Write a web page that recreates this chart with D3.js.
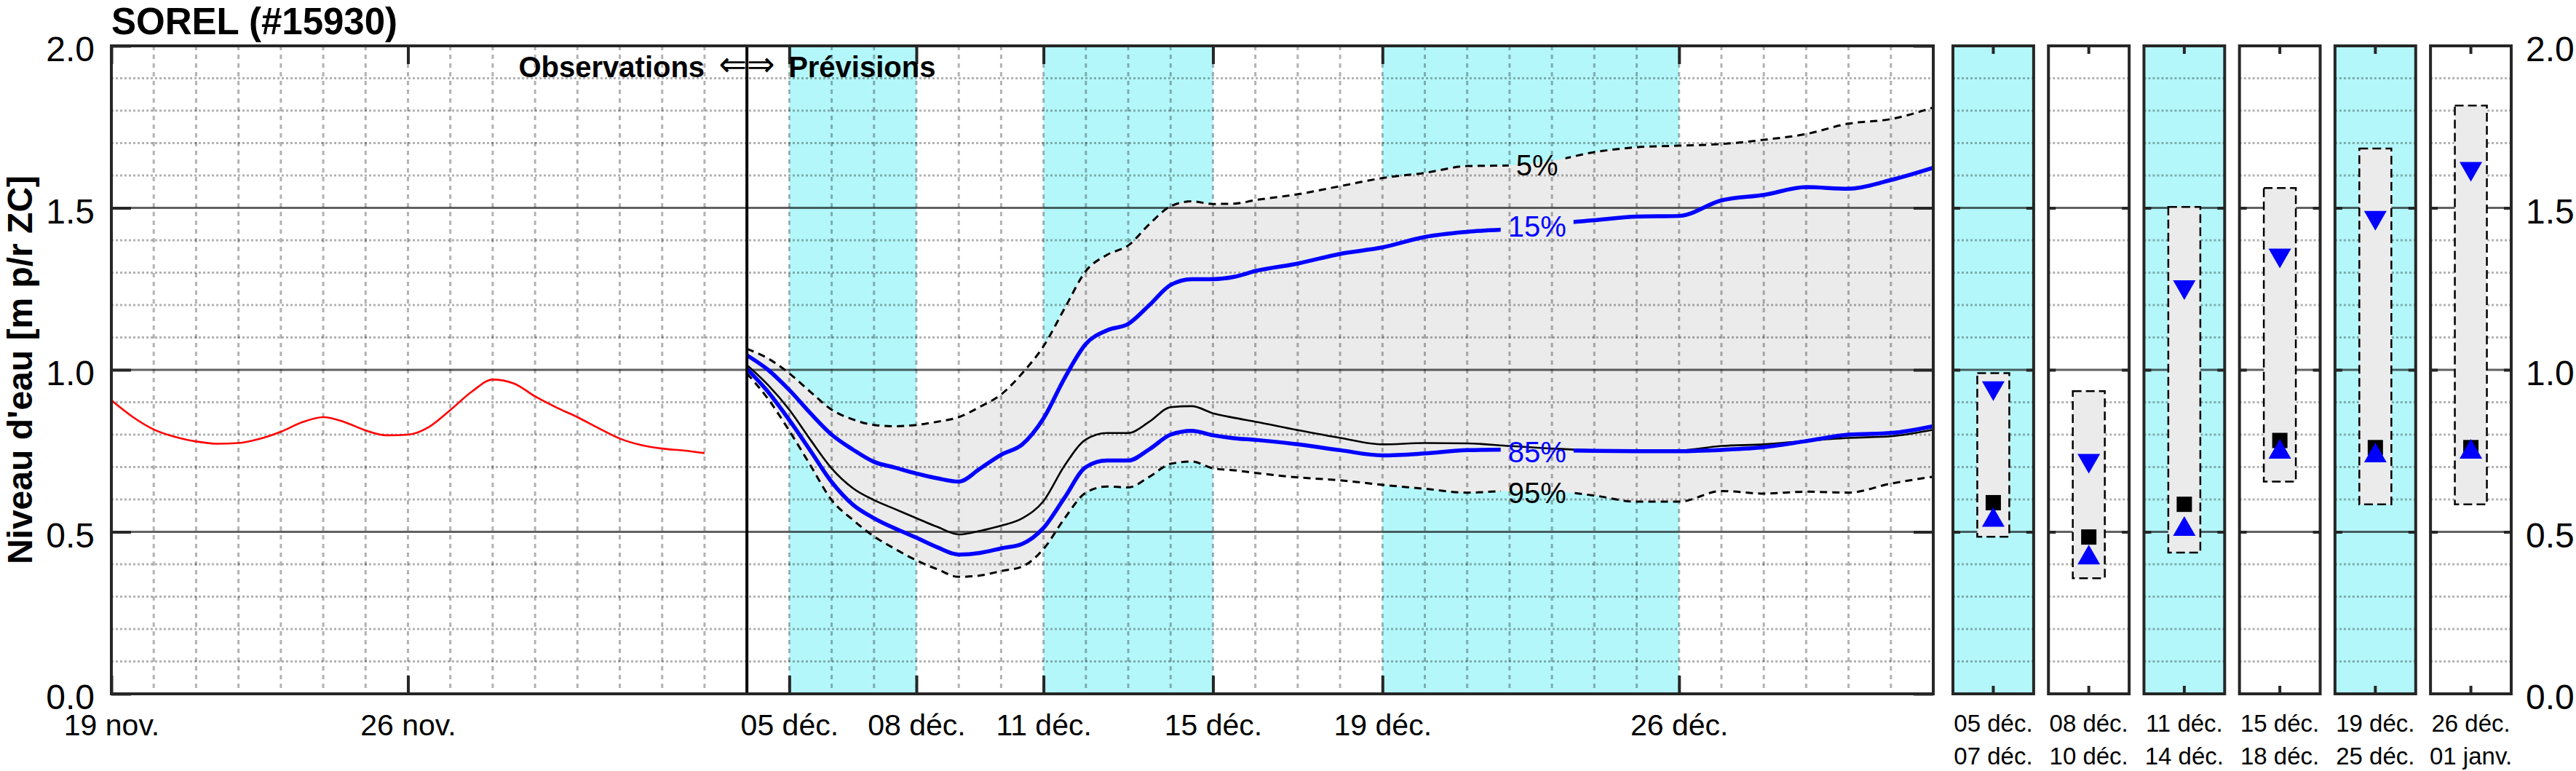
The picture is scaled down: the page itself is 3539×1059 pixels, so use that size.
<!DOCTYPE html>
<html><head><meta charset="utf-8">
<script src="https://cdn.jsdelivr.net/npm/d3@7"></script>
<style>
body{margin:0;background:#fff}
svg{display:block}
text{font-family:"Liberation Sans",Arial,Helvetica,sans-serif;fill:#000}
</style>
</head><body>
<svg id="c" width="3539" height="1059"></svg>
<script>
// ---------------- DATA ----------------
const chartTitle = "SOREL (#15930)";
const yAxisTitle = "Niveau d'eau [m p/r ZC]";
// x in days since 19 nov. 00:00
const xTickDays = [0, 7, 16, 19, 22, 26, 30, 37];
const xTickLabels = ["19 nov.", "26 nov.", "05 déc.", "08 déc.", "11 déc.", "15 déc.", "19 déc.", "26 déc."];
const yTickValues = [0, 0.5, 1, 1.5, 2];
const yTickLabels = ["0.0", "0.5", "1.0", "1.5", "2.0"];
const shadeStart = [16, 22, 30];
const shadeEnd = [19, 26, 37];
const splitDay = 15;
const endDay = 43;

// Observations (days since 19 nov.)
const obsDays = [0,0.5,1,1.5,2,2.5,3,3.5,4,4.5,5,5.5,6,6.5,7,7.5,8,8.5,9,9.5,10,10.5,11,11.5,12,12.5,13,13.5,14];
const obsLevel = [0.906,0.855,0.816,0.793,0.779,0.772,0.774,0.787,0.809,0.838,0.854,0.839,0.813,0.798,0.800,0.824,0.876,0.932,0.970,0.958,0.918,0.884,0.854,0.820,0.788,0.768,0.757,0.751,0.743];

// Forecast (days since 04 déc. 00:00)
const fcDays = [0,0.5,1,1.5,2,2.5,3,3.5,4,4.5,5,5.5,6,6.5,7,7.5,8,8.5,9,9.5,10,10.5,11,11.5,12,13,14,15,16,17,18,19,20,21,22,23,24,25,26,27,28];
const q05 = [1.065,1.035,0.989,0.932,0.877,0.847,0.830,0.826,0.830,0.840,0.854,0.886,0.924,0.990,1.073,1.190,1.305,1.355,1.384,1.450,1.505,1.520,1.512,1.513,1.524,1.542,1.567,1.592,1.608,1.629,1.631,1.645,1.672,1.687,1.692,1.697,1.710,1.728,1.760,1.774,1.810];
const q15 = [1.045,1.000,0.938,0.866,0.800,0.754,0.716,0.698,0.680,0.665,0.655,0.695,0.738,0.770,0.850,0.975,1.080,1.122,1.142,1.200,1.262,1.280,1.280,1.287,1.305,1.328,1.358,1.378,1.410,1.426,1.435,1.450,1.462,1.473,1.475,1.523,1.540,1.564,1.559,1.586,1.624];
const q50 = [1.015,0.953,0.877,0.784,0.696,0.635,0.598,0.570,0.542,0.515,0.492,0.503,0.519,0.542,0.595,0.705,0.785,0.805,0.805,0.840,0.885,0.888,0.866,0.852,0.840,0.814,0.790,0.770,0.774,0.773,0.765,0.757,0.752,0.749,0.751,0.765,0.770,0.781,0.790,0.795,0.815];
const q85 = [1.003,0.932,0.845,0.750,0.654,0.584,0.542,0.510,0.482,0.452,0.430,0.435,0.449,0.463,0.512,0.606,0.700,0.720,0.720,0.755,0.800,0.812,0.798,0.789,0.784,0.770,0.752,0.736,0.742,0.752,0.754,0.752,0.750,0.749,0.749,0.753,0.761,0.780,0.800,0.805,0.826];
const q95 = [0.989,0.910,0.812,0.705,0.598,0.537,0.486,0.447,0.412,0.384,0.361,0.365,0.379,0.393,0.447,0.542,0.621,0.640,0.637,0.670,0.710,0.717,0.696,0.690,0.682,0.668,0.659,0.645,0.633,0.621,0.626,0.625,0.612,0.593,0.593,0.626,0.618,0.624,0.621,0.649,0.670];
const quantileNames = ["5%", "15%", "85%", "95%"];

// Period summary panels
const periodStart = ["05 déc.", "08 déc.", "11 déc.", "15 déc.", "19 déc.", "26 déc."];
const periodEnd = ["07 déc.", "10 déc.", "14 déc.", "18 déc.", "25 déc.", "01 janv."];
const periodShaded = [true, false, true, false, true, false];
const periodQ05 = [0.990, 0.934, 1.503, 1.561, 1.683, 1.816];
const periodQ15 = [0.934, 0.710, 1.246, 1.344, 1.460, 1.611];
const periodMed = [0.590, 0.484, 0.585, 0.782, 0.760, 0.760];
const periodQ85 = [0.546, 0.430, 0.518, 0.756, 0.745, 0.756];
const periodQ95 = [0.485, 0.357, 0.436, 0.655, 0.585, 0.585];

// ---------------- LAYOUT ----------------
const svg = d3.select("#c");
const T = 63, B = 953;
const x = d3.scaleLinear().domain([0, endDay]).range([153, 2656]);
const y = d3.scaleLinear().domain([0, 2]).range([B, T]);
const px = d3.scaleBand().domain(d3.range(periodStart.length)).range([2683, 3450]).paddingInner(0.155).paddingOuter(0);
const axisColor = "#262626";
const cyan = "#b3f7fa";
const fillGrey = "#ebebeb";
const minorY = d3.range(1, 20).map(v => v / 10).filter(v => Math.abs(v * 2 - Math.round(v * 2)) > 1e-6);
const majorY = [0.5, 1, 1.5];

svg.append("rect").attr("width", 3539).attr("height", 1059).attr("fill", "#fff");

// ---------------- MAIN PLOT ----------------
const main = svg.append("g");
const X0 = x(0), X1 = x(endDay);
shadeStart.forEach((s, i) => {
  main.append("rect").attr("x", x(s)).attr("y", T).attr("width", x(shadeEnd[i]) - x(s)).attr("height", B - T).attr("fill", cyan);
});

const fc = fcDays.map((d, i) => ({t: d + splitDay, q05: q05[i], q15: q15[i], q50: q50[i], q85: q85[i], q95: q95[i]}));
const area = d3.area().x(d => x(d.t)).y0(d => y(d.q95)).y1(d => y(d.q05)).curve(d3.curveMonotoneX);
main.append("path").datum(fc).attr("d", area).attr("fill", fillGrey);

// grid
const grid = main.append("g");
grid.selectAll(".vg").data(d3.range(1, endDay)).join("line")
  .attr("x1", d => x(d)).attr("x2", d => x(d)).attr("y1", T).attr("y2", B)
  .attr("stroke", "#000").attr("stroke-opacity", 0.3).attr("stroke-width", 3).attr("stroke-dasharray", "6,6");
grid.selectAll(".hg").data(minorY).join("line")
  .attr("x1", X0).attr("x2", X1).attr("y1", d => y(d)).attr("y2", d => y(d))
  .attr("stroke", "#000").attr("stroke-opacity", 0.3).attr("stroke-width", 3).attr("stroke-dasharray", "3,3");
grid.selectAll(".mg").data(majorY).join("line")
  .attr("x1", X0).attr("x2", X1).attr("y1", d => y(d)).attr("y2", d => y(d))
  .attr("stroke", "#000").attr("stroke-opacity", 0.62).attr("stroke-width", 3);

// observations
const obs = obsDays.map((d, i) => ({t: d, v: obsLevel[i]}));
main.append("path").datum(obs)
  .attr("d", d3.line().x(d => x(d.t)).y(d => y(d.v)).curve(d3.curveMonotoneX))
  .attr("fill", "none").attr("stroke", "#ff0000").attr("stroke-width", 2.6);

// median line
const lineOf = key => d3.line().x(d => x(d.t)).y(d => y(d[key])).curve(d3.curveMonotoneX);
main.append("path").datum(fc).attr("d", lineOf("q50")).attr("fill", "none").attr("stroke", "#000").attr("stroke-width", 2.6);

// quantile labels (positions in plot units)
const labelDay = splitDay + 18.65;
const labelVal = [1.633, 1.445, 0.748, 0.622];
const labelColor = ["#000", "#0000ff", "#0000ff", "#000"];
const labelG = main.append("g");
const labels = quantileNames.map((n, i) => labelG.append("text").attr("x", x(labelDay)).attr("y", y(labelVal[i]) + 15)
  .attr("text-anchor", "middle").attr("font-size", 40).style("fill", labelColor[i]).text(n));

const defs = svg.append("defs");
const qKeys = ["q05", "q15", "q85", "q95"];
const qStyle = [
  {stroke: "#000", w: 3, dash: "10,7"},
  {stroke: "#0000ff", w: 5.5, dash: null},
  {stroke: "#0000ff", w: 5.5, dash: null},
  {stroke: "#000", w: 3, dash: "10,7"}];
qKeys.forEach((k, i) => {
  const bb = labels[i].node().getBBox();
  const m = defs.append("mask").attr("id", "m" + i).attr("maskUnits", "userSpaceOnUse")
    .attr("x", 0).attr("y", 0).attr("width", 3539).attr("height", 1059);
  m.append("rect").attr("width", 3539).attr("height", 1059).attr("fill", "#fff");
  m.append("rect").attr("x", bb.x - 10).attr("y", bb.y - 4).attr("width", bb.width + 20).attr("height", bb.height + 8).attr("fill", "#000");
  const p = main.append("path").datum(fc).attr("d", lineOf(k)).attr("fill", "none")
    .attr("stroke", qStyle[i].stroke).attr("stroke-width", qStyle[i].w).attr("mask", "url(#m" + i + ")");
  if (qStyle[i].dash) p.attr("stroke-dasharray", qStyle[i].dash);
});
labelG.raise();

// split line
main.append("line").attr("x1", x(splitDay)).attr("x2", x(splitDay)).attr("y1", T).attr("y2", B)
  .attr("stroke", "#000").attr("stroke-width", 4);

// axes
const styleAxis = g => {
  g.select(".domain").remove();
  g.selectAll(".tick line").attr("stroke", axisColor).attr("stroke-width", 4);
  g.selectAll("text").attr("fill", "#000").style("fill", "#000");
};
main.append("g").attr("transform", `translate(0,${B})`)
  .call(d3.axisBottom(x).tickValues(xTickDays).tickFormat((d, i) => xTickLabels[i]).tickSizeInner(-25).tickSizeOuter(0).tickPadding(28))
  .call(styleAxis)
  .call(g => g.selectAll("text").attr("font-size", 41).attr("font-family", null));
main.append("g").attr("transform", `translate(0,${T})`)
  .call(d3.axisTop(x).tickValues(xTickDays).tickFormat("").tickSizeInner(-25).tickSizeOuter(0))
  .call(styleAxis);
main.append("g").attr("transform", `translate(${X0},0)`)
  .call(d3.axisLeft(y).tickValues(yTickValues).tickFormat((d, i) => yTickLabels[i]).tickSizeInner(-27).tickSizeOuter(0).tickPadding(23))
  .call(styleAxis)
  .call(g => g.selectAll("text").attr("font-size", 48).attr("dy", "0.43em").attr("font-family", null));
main.append("g").attr("transform", `translate(${X1},0)`)
  .call(d3.axisRight(y).tickValues(yTickValues).tickFormat("").tickSizeInner(-27).tickSizeOuter(0))
  .call(styleAxis);
main.append("rect").attr("x", X0).attr("y", T).attr("width", X1 - X0).attr("height", B - T)
  .attr("fill", "none").attr("stroke", axisColor).attr("stroke-width", 4);

// annotations
const annY = 106;
main.append("text").attr("x", x(splitDay) - 58).attr("y", annY).attr("text-anchor", "end")
  .attr("font-size", 40).attr("font-weight", "bold").text("Observations");
main.append("text").attr("x", x(splitDay)).attr("y", annY - 2).attr("text-anchor", "middle")
  .attr("font-size", 46).style("font-family", "'DejaVu Sans',sans-serif").text("⇐⇒");
main.append("text").attr("x", x(splitDay) + 57).attr("y", annY).attr("text-anchor", "start")
  .attr("font-size", 40).attr("font-weight", "bold").text("Prévisions");

svg.append("text").attr("x", 153).attr("y", 47).attr("font-size", 51).attr("font-weight", "bold").text(chartTitle);
svg.append("text").attr("transform", `translate(44,${(T + B) / 2}) rotate(-90)`).attr("text-anchor", "middle")
  .attr("font-size", 48).attr("font-weight", "bold").text(yAxisTitle);

// ---------------- PANELS ----------------
const bw = px.bandwidth();
periodStart.forEach((lab, i) => {
  const g = svg.append("g");
  const left = px(i), right = left + bw, cx = left + bw / 2;
  g.append("rect").attr("x", left).attr("y", T).attr("width", bw).attr("height", B - T).attr("fill", periodShaded[i] ? cyan : "#fff");
  g.selectAll(".hg").data(minorY).join("line")
    .attr("x1", left).attr("x2", right).attr("y1", d => y(d)).attr("y2", d => y(d))
    .attr("stroke", "#000").attr("stroke-opacity", 0.3).attr("stroke-width", 3).attr("stroke-dasharray", "3,3");
  g.selectAll(".mg").data(majorY).join("line")
    .attr("x1", left).attr("x2", right).attr("y1", d => y(d)).attr("y2", d => y(d))
    .attr("stroke", "#000").attr("stroke-opacity", 0.62).attr("stroke-width", 3);
  // range box
  g.append("rect").attr("x", cx - 22).attr("y", y(periodQ05[i])).attr("width", 44)
    .attr("height", y(periodQ95[i]) - y(periodQ05[i]))
    .attr("fill", fillGrey).attr("stroke", "#000").attr("stroke-width", 2.5).attr("stroke-dasharray", "12,6");
  // median square
  g.append("rect").attr("x", cx - 10.5).attr("y", y(periodMed[i]) - 10.5).attr("width", 21).attr("height", 21).attr("fill", "#000");
  // 85% up triangle
  const yu = y(periodQ85[i]);
  g.append("path").attr("d", `M${cx - 15.5},${yu + 13.5}L${cx + 15.5},${yu + 13.5}L${cx},${yu - 13.5}Z`).attr("fill", "#0000ff");
  // 15% down triangle
  const yd = y(periodQ15[i]);
  g.append("path").attr("d", `M${cx - 15.5},${yd - 13.5}L${cx + 15.5},${yd - 13.5}L${cx},${yd + 13.5}Z`).attr("fill", "#0000ff");
  // y ticks
  g.append("g").attr("transform", `translate(${left},0)`)
    .call(d3.axisLeft(y).tickValues(majorY).tickFormat("").tickSizeInner(-10).tickSizeOuter(0)).call(styleAxis);
  g.append("g").attr("transform", `translate(${right},0)`)
    .call(d3.axisRight(y).tickValues(majorY).tickFormat("").tickSizeInner(-10).tickSizeOuter(0)).call(styleAxis);
  g.append("rect").attr("x", left).attr("y", T).attr("width", bw).attr("height", B - T)
    .attr("fill", "none").attr("stroke", axisColor).attr("stroke-width", 4);
});
// panel x ticks + two-line labels
svg.append("g").attr("transform", `translate(0,${B})`)
  .call(d3.axisBottom(px).tickFormat("").tickSizeInner(-11).tickSizeOuter(0)).call(styleAxis);
svg.append("g").attr("transform", `translate(0,${T})`)
  .call(d3.axisTop(px).tickFormat("").tickSizeInner(-11).tickSizeOuter(0)).call(styleAxis);
periodStart.forEach((lab, i) => {
  const cx = px(i) + bw / 2;
  const t = svg.append("text").attr("text-anchor", "middle").attr("font-size", 33);
  t.append("tspan").attr("x", cx).attr("y", 1005).text(lab);
  t.append("tspan").attr("x", cx).attr("y", 1050).text(periodEnd[i]);
});
// right-hand y labels
svg.append("g").attr("transform", `translate(${px(periodStart.length - 1) + bw},0)`)
  .call(d3.axisRight(y).tickValues(yTickValues).tickFormat((d, i) => yTickLabels[i]).tickSizeInner(0).tickSizeOuter(0).tickPadding(20))
  .call(styleAxis)
  .call(g => g.selectAll("text").attr("font-size", 48).attr("dy", "0.43em").attr("font-family", null));
</script>
</body></html>
